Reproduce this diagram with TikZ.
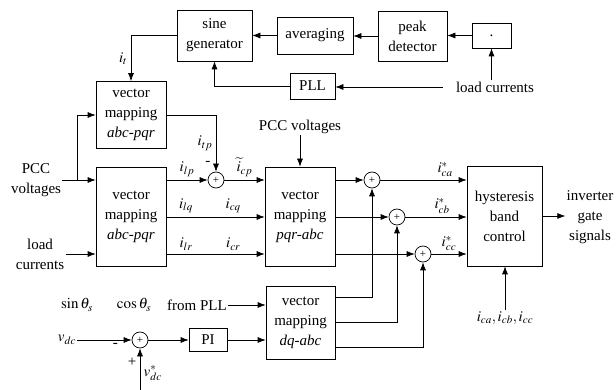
\documentclass[tikz,border=0pt]{standalone}
\usepackage{mathptmx}
\usepackage{fontspec}
\setmainfont{Liberation Serif}
\usetikzlibrary{arrows.meta, positioning}

\begin{document}
\begin{tikzpicture}[>={Latex[length=8pt,width=6pt]}, x=1pt, y=-1pt,
    line width=0.7pt,
    every node/.style={font=\fontsize{15}{20}\selectfont},
    blk/.style={draw, align=center, inner sep=0pt},
    sumnode/.style={draw, circle, inner sep=0pt, minimum size=16pt,
        font=\fontsize{11}{11}\selectfont},
    lbl/.style={inner sep=1pt}]
    \useasboundingbox (0,0) rectangle (616,390);

    % reference generation from load currents
    \node[blk, minimum width=75pt, minimum height=51pt] (sine) at (214.5,35.5) {sine\\generator};
    \node[blk, minimum width=76pt, minimum height=37pt] (avg) at (315,35.5) {averaging};
    \node[blk, minimum width=69pt, minimum height=50pt] (peak) at (412.5,36) {peak\\detector};
    \node[blk, minimum width=39pt, minimum height=25pt] (dotb) at (491.5,35.5) {.};
    \node[blk, minimum width=45pt, minimum height=26pt] (pll) at (312.5,86) {PLL};
    \node[lbl] (loadR) at (495,87) {load currents};

    % mapping blocks
    \node[blk, minimum width=70pt, minimum height=67pt] (mapU) at (131,115) {vector\\mapping\\\textit{abc-pqr}};
    \node[blk, minimum width=70pt, minimum height=99pt] (mapL) at (131,216.5) {vector\\mapping\\\textit{abc-pqr}};
    \node[blk, minimum width=70pt, minimum height=99pt] (pqr) at (300,216.5) {vector\\mapping\\\textit{pqr-abc}};
    \node[blk, minimum width=75pt, minimum height=100pt] (hyst) at (504.5,216) {hysteresis\\band\\control};
    \node[blk, minimum width=69pt, minimum height=73pt] (dq) at (300.5,322.5) {vector\\mapping\\\textit{dq-abc}};
    \node[blk, minimum width=38pt, minimum height=23pt] (pi) at (208,340) {PI};

    % summing junctions
    \node[sumnode] (s1) at (216,180) {+};
    \node[sumnode] (sa) at (372,180) {+};
    \node[sumnode] (sb) at (397,217) {+};
    \node[sumnode] (sc) at (423,254) {+};
    \node[sumnode] (sdc) at (140,340) {+};

    % free texts
    \node[lbl, align=center] (pccL) at (36,180) {PCC\\voltages};
    \node[lbl, align=center] (loadL) at (40,254) {load\\currents};
    \node[lbl] (pccT) at (300,127) {PCC voltages};
    \node[lbl, align=center] (inv) at (590,217) {inverter\\gate\\signals};
    \node[lbl] (ifb) at (505,318) {$i_{ca},i_{cb},i_{cc}$};
    \node[lbl] (sinT) at (77,305) {$\sin\theta_s$};
    \node[lbl] (cosT) at (134,305) {$\cos\theta_s$};
    \node[lbl] (fromP) at (197,305) {from PLL};
    \node[lbl] (vdc) at (67,340) {$v_{dc}$};
    \coordinate (br) at (77,180);
    \coordinate (vref) at (140,390);

    % top chain
    \draw[->] (loadR.north -| dotb.south) -- (dotb.south);
    \draw[->, shorten <=12pt] (loadR.west) -- (loadR.west -| pll.east);
    \draw[->] (dotb.west) -- (dotb.west -| peak.east);
    \draw[->] (peak.west) -- (peak.west -| avg.east);
    \draw[->] (avg.west) -- (avg.west -| sine.east);
    \draw[->] (pll.west) -| (sine.south);
    \draw[->] (sine.west) -| (mapU.north) node[pos=0.75, left] {$i_t$};

    % inputs of the mapping blocks
    \draw[->] (pccL.east) -- (pccL.east -| mapL.west);
    \draw[->] (br) |- (mapU.west);
    \draw[->] (loadL.east) -- (loadL.east -| mapL.west);
    \draw[->] (mapU.east) -| (s1.north) node[pos=0.75, left] {$i_{tp}$}
        node[pos=0.93, left=2pt] {-};
    \draw[->] (mapL.east |- s1) -- (s1.west) node[midway, above] {$i_{lp}$};
    \draw[->] (s1.east) -- (pqr.west |- s1) node[midway, above] {$\widetilde{i}_{cp}$};
    \draw[->] (mapL.east |- sb) -- (pqr.west |- sb) node[pos=0.2, above] {$i_{lq}$}
        node[pos=0.68, above] {$i_{cq}$};
    \draw[->] (mapL.east |- sc) -- (pqr.west |- sc) node[pos=0.2, above] {$i_{lr}$}
        node[pos=0.68, above] {$i_{cr}$};
    \draw[->] (pccT.south) -- (pqr.north);

    % to the hysteresis controller
    \draw[->] (pqr.east |- sa) -- (sa.west);
    \draw[->] (pqr.east |- sb) -- (sb.west);
    \draw[->] (pqr.east |- sc) -- (sc.west);
    \draw[->] (sa.east) -- (hyst.west |- sa) node[pos=0.75, above] {$i^{*}_{ca}$};
    \draw[->] (sb.east) -- (hyst.west |- sb) node[pos=0.6, above] {$i^{*}_{cb}$};
    \draw[->] (sc.east) -- (hyst.west |- sc) node[pos=0.5, above] {$i^{*}_{cc}$};
    \draw[->] (hyst.east) -- (hyst.east -| inv.west);
    \draw[->] (ifb.north) -- (ifb.north |- hyst.south);

    % dc-link loop
    \draw[->] ([yshift=25pt]dq.east) -| (sa.south);
    \draw[->] (dq.east) -| (sb.south);
    \draw[->] ([yshift=-25pt]dq.east) -| (sc.south);
    \draw[->] (fromP.east) -- (fromP.east -| dq.west);
    \draw[->] (vdc.east) -- (sdc.west) node[pos=0.7, below] {-};
    \draw[->] (vref) -- (sdc.south) node[pos=0.4, right] {$v^{*}_{dc}$}
        node[pos=0.67, left] {+};
    \draw[->] (sdc.east) -- (pi.west);
    \draw[->] (pi.east) -- (pi.east -| dq.west);
\end{tikzpicture}
\end{document}
